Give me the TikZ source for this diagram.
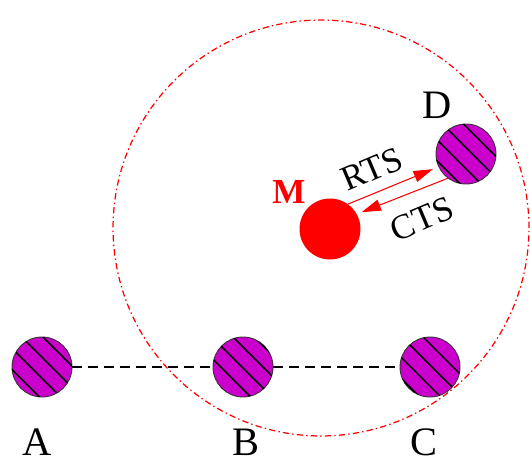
\documentclass[tikz,border=0pt]{standalone}
\usepackage{fontspec}
\setmainfont{Liberation Serif}
\usepackage{tikz}
\usetikzlibrary{arrows.meta,patterns.meta,positioning}
\definecolor{stationmagenta}{HTML}{CC00CC}
\definecolor{mobilered}{HTML}{FF0000}

\begin{document}
\begin{tikzpicture}[
        x=0.02cm, y=-0.02cm,
        station/.style={circle, draw=black!80, line width=0.5pt, minimum size=1.2cm, inner sep=0pt, fill=stationmagenta,
            postaction={pattern={Lines[angle=-45, distance=8.5pt, line width=0.9pt]}, pattern color=black}},
        mobile/.style={circle, fill=mobilered, minimum size=1.22cm, inner sep=0pt},
        namelabel/.style={font=\fontsize{23}{23}\selectfont},
        msglabel/.style={font=\fontsize{20}{20}\selectfont, rotate=23},
        msg/.style={draw=mobilered, line width=0.6pt, -{Triangle[length=11pt, width=6.5pt]}},
        link/.style={draw=black, line width=0.8pt, dash pattern=on 5.7pt off 3.4pt},
        rangecircle/.style={draw=mobilered, line width=0.7pt, dash pattern=on 3.6pt off 1.8pt on 0.8pt off 1.8pt}
    ]
    \useasboundingbox (0,0) rectangle (530,463);

    % === Stations on the line ===
    \node[station] (A) at (42,367) {};
    \node[station] (B) at (243,367) {};
    \node[station] (C) at (430,367) {};
    \node[station] (D) at (466,154) {};
    \draw[link] (A) -- (B) -- (C);

    % Labels
    \node[namelabel] (labA) at (37,442) {A};
    \node[namelabel] (labB) at (246,442) {B};
    \node[namelabel] (labC) at (424,442) {C};
    \node[namelabel] (labD) at (437,105) {D};

    % === Mobile node ===
    \node[mobile] (M) at (330,229) {};
    \node[font=\fontsize{20}{20}\selectfont\bfseries, text=mobilered] (labM) at (289,192) {M};

    % RTS / CTS exchange
    \draw[msg, shorten >=0.12cm] (M.54) -- (D.205);
    \draw[msg, shorten >=0.1cm] (D.233) -- (M.29);
    \node[msglabel] (rts) at (372,169) {RTS};
    \node[msglabel] (cts) at (422,219) {CTS};

    % Range of M
    \draw[rangecircle] (321,228) circle[radius=4.16cm];
\end{tikzpicture}
\end{document}
